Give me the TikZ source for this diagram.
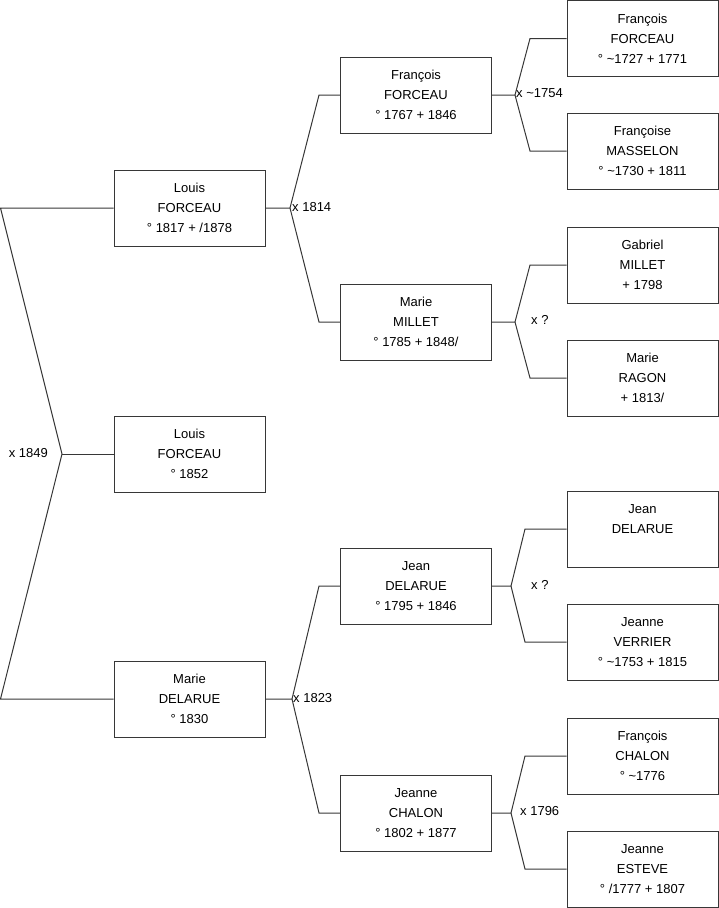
\documentclass[tikz,border=0pt]{standalone}
\usepackage{fontspec}
\setmainfont{Liberation Sans}
\begin{document}
\begin{tikzpicture}[x=1pt,y=-1pt,
  person/.style={draw=linegray, line width=1pt, fill=white, rectangle, minimum width=151pt, minimum height=76pt, inner sep=0pt, align=center, font=\fontsize{13}{20}\selectfont},
  link/.style={draw=linegray, line width=1pt},
  mlabel/.style={inner sep=0pt, font=\fontsize{13}{16}\selectfont}]
\definecolor{linegray}{RGB}{55,55,55}
\useasboundingbox (0,0) rectangle (719,908);
% generation 1
\node[person] (p1) at (189.5,208) {Louis\\FORCEAU\\° 1817 + /1878};
\node[person] (p0) at (189.5,454) {Louis\\FORCEAU\\° 1852};
\node[person] (p2) at (189.5,699) {Marie\\DELARUE\\° 1830};
% generation 2
\node[person] (f1) at (416,95) {François\\FORCEAU\\° 1767 + 1846};
\node[person] (m1) at (416,322) {Marie\\MILLET\\° 1785 + 1848/};
\node[person] (f2) at (416,586) {Jean\\DELARUE\\° 1795 + 1846};
\node[person] (m2) at (416,813) {Jeanne\\CHALON\\° 1802 + 1877};
% generation 3
\node[person] (a1) at (642.5,38.5) {François\\FORCEAU\\° \char`\~1727 + 1771};
\node[person] (a2) at (642.5,151) {Françoise\\MASSELON\\° \char`\~1730 + 1811};
\node[person] (a3) at (642.5,265) {Gabriel\\MILLET\\+ 1798};
\node[person] (a4) at (642.5,378) {Marie\\RAGON\\+ 1813/};
\node[person] (a5) at (642.5,529) {Jean\\DELARUE\\~};
\node[person] (a6) at (642.5,642) {Jeanne\\VERRIER\\° \char`\~1753 + 1815};
\node[person] (a7) at (642.5,756) {François\\CHALON\\° \char`\~1776};
\node[person] (a8) at (642.5,869) {Jeanne\\ESTEVE\\° /1777 + 1807};
% root bracket
\coordinate (r1) at (0.5,208);
\coordinate (r2) at (0.5,699);
\coordinate (rv) at (62,454);
\draw[link] (p1.west) -- (r1) -- (rv) -- (r2) -- (p2.west);
\draw[link] (rv) -- (p0.west);
\node[mlabel, anchor=east] (l0) at (48,453) {x 1849};
% Louis 1817 -> parents
\coordinate (v1) at (290,208);
\coordinate (k1a) at (319,95);
\coordinate (k1b) at (319,322);
\draw[link] (p1.east) -- (v1) -- (k1a) -- (f1.west);
\draw[link] (v1) -- (k1b) -- (m1.west);
\node[mlabel, anchor=west] (l1) at (292,207) {x 1814};
% Marie DELARUE -> parents
\coordinate (v2) at (292,699);
\coordinate (k2a) at (319,586);
\coordinate (k2b) at (319,813);
\draw[link] (p2.east) -- (v2) -- (k2a) -- (f2.west);
\draw[link] (v2) -- (k2b) -- (m2.west);
\node[mlabel, anchor=west] (l2) at (293,698) {x 1823};
% François FORCEAU -> parents
\coordinate (v3) at (515,95);
\coordinate (k3a) at (530,38.5);
\coordinate (k3b) at (530,151);
\draw[link] (f1.east) -- (v3) -- (k3a) -- (a1.west);
\draw[link] (v3) -- (k3b) -- (a2.west);
\node[mlabel, anchor=west] (l3) at (516,93) {x \char`\~1754};
% Marie MILLET -> parents
\coordinate (v4) at (515,322);
\coordinate (k4a) at (530,265);
\coordinate (k4b) at (530,378);
\draw[link] (m1.east) -- (v4) -- (k4a) -- (a3.west);
\draw[link] (v4) -- (k4b) -- (a4.west);
\node[mlabel, anchor=west] (l4) at (531,320) {x ?};
% Jean DELARUE -> parents
\coordinate (v5) at (511,586);
\coordinate (k5a) at (525,529);
\coordinate (k5b) at (525,642);
\draw[link] (f2.east) -- (v5) -- (k5a) -- (a5.west);
\draw[link] (v5) -- (k5b) -- (a6.west);
\node[mlabel, anchor=west] (l5) at (531,585) {x ?};
% Jeanne CHALON -> parents
\coordinate (v6) at (511,813);
\coordinate (k6a) at (525,756);
\coordinate (k6b) at (525,869);
\draw[link] (m2.east) -- (v6) -- (k6a) -- (a7.west);
\draw[link] (v6) -- (k6b) -- (a8.west);
\node[mlabel, anchor=west] (l6) at (520,811) {x 1796};
\end{tikzpicture}
\end{document}
